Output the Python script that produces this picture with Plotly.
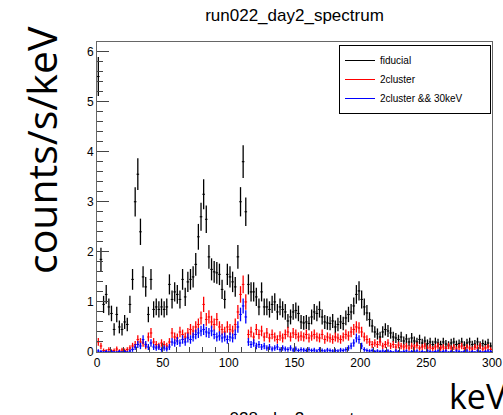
import numpy as np
import plotly.graph_objects as go

# bin centres (keV), 2 keV bins
bin_centres = list(range(1, 300, 2))

fiducial = [
    5.5, 1.85, 0.95, 1.15, 0.9, 0.77, 0.45, 0.75, 0.5, 0.45,
    0.6, 0.55, 0.95, 1.45, 3.0, 3.55, 2.4, 1.5, 1.3, 0.75,
    1.45, 0.85, 0.9, 0.85, 0.9, 0.85, 0.9, 1.35, 1.05, 1.2,
    1.15, 1.05, 1.45, 1.1, 1.4, 1.45, 1.5, 1.75, 2.3, 2.7,
    3.15, 2.65, 1.9, 1.65, 1.6, 1.58, 1.55, 1.25, 1.05, 1.55,
    1.5, 1.4, 1.3, 1.9, 3.0, 3.8, 2.8, 1.35, 1.2, 1.2,
    1.1, 0.9, 1.2, 0.9, 0.9, 0.85, 0.95, 1.0, 0.8, 0.9,
    0.85, 0.8, 0.62, 0.7, 0.8, 0.83, 0.77, 0.6, 0.58, 0.6,
    0.57, 0.7, 0.8, 0.77, 0.85, 0.7, 0.6, 0.58, 0.57, 0.62,
    0.5, 0.55, 0.6, 0.57, 0.68, 0.75, 0.8, 0.92, 1.15, 1.22,
    1.05, 0.9, 0.78, 0.65, 0.52, 0.4, 0.36, 0.3, 0.4, 0.45,
    0.42, 0.38, 0.3, 0.28, 0.25, 0.3, 0.22, 0.26, 0.2, 0.28,
    0.22, 0.2, 0.25, 0.18, 0.22, 0.17, 0.2, 0.15, 0.2, 0.18,
    0.15, 0.2, 0.16, 0.14, 0.18, 0.2, 0.15, 0.17, 0.2, 0.14,
    0.18, 0.2, 0.15, 0.16, 0.2, 0.14, 0.17, 0.15, 0.18, 0.12,
]

cluster2 = [
    0.2, 0.12, 0.03, 0.02, 0.05, 0.02, 0.03, 0.06, 0.02, 0.04,
    0.03, 0.05, 0.08, 0.12, 0.15, 0.25, 0.2, 0.18, 0.12, 0.3,
    0.38, 0.2, 0.15, 0.12, 0.18, 0.15, 0.12, 0.2, 0.38, 0.3,
    0.28, 0.4, 0.35, 0.3, 0.38, 0.45, 0.42, 0.5, 0.55, 0.68,
    0.95, 0.65, 0.7, 0.6, 0.55, 0.65, 0.5, 0.45, 0.4, 0.5,
    0.45, 0.42, 0.55, 0.8, 1.15, 1.35, 1.0, 0.35, 0.4, 0.3,
    0.45, 0.35, 0.42, 0.3, 0.38, 0.28, 0.35, 0.3, 0.25, 0.32,
    0.28, 0.35, 0.4, 0.3, 0.38, 0.35, 0.3, 0.32, 0.3, 0.35,
    0.28, 0.32, 0.35, 0.3, 0.28, 0.35, 0.25, 0.3, 0.28, 0.25,
    0.3, 0.28, 0.25, 0.3, 0.35, 0.32, 0.4, 0.45, 0.5, 0.48,
    0.4, 0.3, 0.25, 0.2, 0.15, 0.18, 0.15, 0.2, 0.12, 0.15,
    0.18, 0.12, 0.15, 0.1, 0.14, 0.12, 0.1, 0.12, 0.08, 0.12,
    0.1, 0.13, 0.08, 0.1, 0.12, 0.08, 0.1, 0.07, 0.1, 0.12,
    0.08, 0.1, 0.07, 0.12, 0.08, 0.1, 0.06, 0.1, 0.12, 0.07,
    0.1, 0.08, 0.06, 0.1, 0.08, 0.12, 0.06, 0.08, 0.1, 0.05,
]

cluster2_30keV = [
    0.02, 0.01, 0.0, 0.01, 0.0, 0.01, 0.0, 0.0, 0.01, 0.0,
    0.01, 0.0, 0.02, 0.05, 0.1, 0.15, 0.12, 0.25, 0.15, 0.1,
    0.18, 0.1, 0.08, 0.1, 0.05, 0.08, 0.06, 0.1, 0.2, 0.18,
    0.22, 0.18, 0.25, 0.2, 0.28, 0.25, 0.3, 0.35, 0.38, 0.42,
    0.45, 0.4, 0.38, 0.42, 0.35, 0.3, 0.32, 0.28, 0.3, 0.25,
    0.3, 0.28, 0.35, 0.5, 0.75, 0.92, 0.7, 0.2, 0.15, 0.18,
    0.12, 0.15, 0.1, 0.12, 0.08, 0.1, 0.06, 0.08, 0.1, 0.05,
    0.08, 0.06, 0.05, 0.08, 0.04, 0.06, 0.03, 0.05, 0.04, 0.03,
    0.05, 0.03, 0.04, 0.02, 0.05, 0.03, 0.02, 0.04, 0.03, 0.02,
    0.03, 0.02, 0.04, 0.03, 0.05, 0.08, 0.12, 0.18, 0.28, 0.25,
    0.12, 0.05, 0.03, 0.02, 0.03, 0.01, 0.02, 0.01, 0.02, 0.01,
    0.02, 0.01, 0.0, 0.02, 0.01, 0.0, 0.01, 0.02, 0.0, 0.01,
    0.01, 0.02, 0.0, 0.01, 0.0, 0.02, 0.01, 0.0, 0.01, 0.02,
    0.0, 0.01, 0.02, 0.0, 0.01, 0.0, 0.02, 0.01, 0.0, 0.01,
    0.02, 0.0, 0.01, 0.0, 0.02, 0.01, 0.0, 0.01, 0.02, 0.01,
]

series_names = ["fiducial", "2cluster", "2cluster && 30keV"]
series_colors = ["black", "#ff0000", "#0000ff"]
series_values = [fiducial, cluster2, cluster2_30keV]
err_scale = [0.16, 0.14, 0.14]

fig = go.Figure()
for name, col, vals, k in zip(series_names, series_colors, series_values, err_scale):
    v = np.array(vals)
    fig.add_trace(go.Scatter(
        x=bin_centres, y=v, mode="markers",
        marker=dict(size=1, color=col),
        error_y=dict(type="data", array=k * np.sqrt(v) + 0.015, color=col, thickness=1.3, width=0),
        error_x=dict(type="constant", value=1, color=col, thickness=1, width=0),
        showlegend=False, hoverinfo="skip",
    ))
# legend entries (padding keeps the box as wide as the ROOT legend)
for i, (name, col) in enumerate(zip(series_names, series_colors)):
    label = name + ("\u00a0" * 8 if i == 2 else "")
    fig.add_trace(go.Scatter(x=[None], y=[None], mode="lines", name=label,
                             line=dict(color=col, width=1)))

W, H = 503, 415
ML, MT, MR, MB = 97, 42, 11, 63
PW, PH = W - ML - MR, H - MT - MB

def px_x(xw):  # window x pixel -> paper x
    return (xw - ML) / PW

def px_y(yw):  # window y pixel -> paper y
    return 1 - (yw - MT) / PH

fig.update_layout(
    width=W, height=H,
    margin=dict(l=ML, r=MR, t=MT, b=MB, autoexpand=False),
    paper_bgcolor="white", plot_bgcolor="white",
    font=dict(family="Liberation Sans, Arial, sans-serif", color="black"),
    title=dict(text="run022_day2_spectrum", x=0.5, xref="paper", y=1 - 15 / H, yref="container",
               xanchor="center", yanchor="middle", font=dict(size=17), automargin=False),
    legend=dict(x=px_x(339), y=px_y(45), xanchor="left", yanchor="top",
                bordercolor="black", borderwidth=1, bgcolor="white",
                font=dict(size=10), tracegroupgap=0, itemwidth=30),
    xaxis=dict(range=[0, 300], showgrid=False, zeroline=False, automargin=False,
               showline=True, linecolor="#666", linewidth=1, mirror=True,
               ticks="inside", ticklen=9, tickcolor="#444", dtick=50, tick0=0,
               minor=dict(ticks="inside", ticklen=5, dtick=10, tickcolor="#444"),
               tickfont=dict(size=12)),
    yaxis=dict(range=[0, 6.19], showgrid=False, zeroline=False, automargin=False,
               showline=True, linecolor="#666", linewidth=1, mirror=True,
               ticks="inside", ticklen=12, tickcolor="#444", dtick=1, tick0=0,
               minor=dict(ticks="inside", ticklen=6, dtick=0.2, tickcolor="#444"),
               tickfont=dict(size=12)),
    annotations=[
        dict(text="counts/s/keV", xref="paper", yref="paper", x=px_x(41), y=px_y(150),
             textangle=-90, showarrow=False, font=dict(family="Open Sans", size=41),
             xanchor="center", yanchor="middle"),
        dict(text="keV", xref="paper", yref="paper", x=px_x(447), y=px_y(396),
             showarrow=False, font=dict(family="Open Sans", size=34),
             xanchor="left", yanchor="middle"),
        dict(text="run028_day2_spectrum", xref="paper", yref="paper", x=0.5, y=px_y(407),
             showarrow=False, font=dict(size=17), xanchor="center", yanchor="top"),
    ],
)

fig.write_html(
    "out.html",
    config={"displayModeBar": False},
    post_script="document.body.style.margin='0';document.body.style.overflow='hidden';",
)
